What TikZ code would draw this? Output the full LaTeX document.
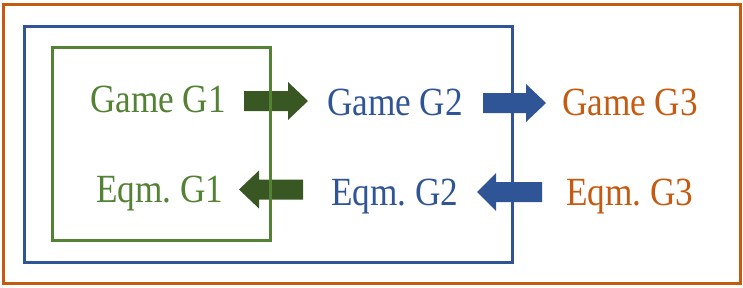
\documentclass[tikz,border=0pt]{standalone}
\usepackage{fontspec}
\setmainfont{Liberation Serif}
\definecolor{cgreen}{HTML}{548235}
\definecolor{cdgreen}{HTML}{385723}
\definecolor{cblue}{HTML}{2F5597}
\definecolor{corange}{HTML}{C55A11}
\newcommand\blockarr[6]{% color, tail x, base x, tip x, center y, shaft half
  \fill[#1] (#2,#5-#6) -- (#3,#5-#6) -- (#3,#5-19) -- (#4,#5) -- (#3,#5+19) -- (#3,#5+#6) -- (#2,#5+#6) -- cycle;}
\newcommand\cond[1]{\scalebox{0.88}[1]{#1}}
\begin{document}
\begin{tikzpicture}[x=1pt,y=-1pt,
  lbl/.style={font=\fontsize{40}{44}\selectfont, inner sep=0pt, anchor=base},
  boxline/.style={line width=3pt}]
\useasboundingbox (0,0) rectangle (743,287);
% arrows
\blockarr{cdgreen}{244}{288}{308}{101}{10}
\blockarr{cdgreen}{303}{259}{239}{189.5}{10}
\blockarr{cblue}{483}{526}{546}{103}{10}
\blockarr{cblue}{542}{496}{477}{192}{10}
% boxes
\draw[boxline, corange] (3,4) rectangle (740,283);
\draw[boxline, cblue] (24,26) rectangle (512,262);
\draw[boxline, cgreen] (52,47) rectangle (270,240);
% texts
\node[lbl, text=cgreen] (g1) at (158,112) {\cond{Game G1}};
\node[lbl, text=cblue] (g2) at (395,115) {\cond{Game G2}};
\node[lbl, text=corange] (g3) at (630,115) {\cond{Game G3}};
\node[lbl, text=cgreen] (e1) at (160,202) {\cond{Eqm.\ G1}};
\node[lbl, text=cblue] (e2) at (395,205) {\cond{Eqm.\ G2}};
\node[lbl, text=corange] (e3) at (630,205) {\cond{Eqm.\ G3}};
\end{tikzpicture}
\end{document}
